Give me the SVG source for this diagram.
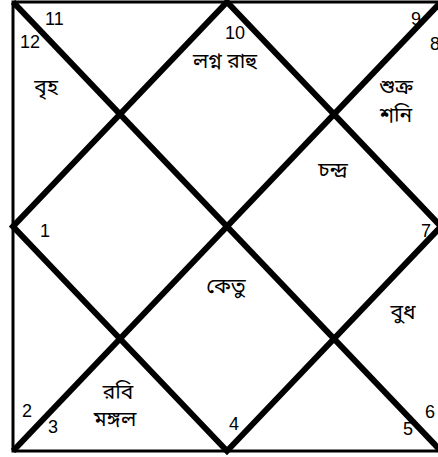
<svg xmlns="http://www.w3.org/2000/svg" width="438" height="457" viewBox="0 0 438 457">
<style>
.num{font-family:"Liberation Sans",Arial,sans-serif;font-size:18px;fill:#000}
.pl{font-family:"Noto Sans Bengali","Noto Sans","Liberation Sans",sans-serif;font-size:21px;fill:#000}
.frame{fill:none;stroke:#000;stroke-width:3}
.thick{fill:none;stroke:#000;stroke-width:6;stroke-linejoin:miter}
</style>
<rect width="438" height="457" fill="#fff"/>
<g id="lines">
<rect class="frame" x="13" y="2" width="428" height="449"/>
<line class="thick" x1="13" y1="2" x2="441" y2="451"/>
<line class="thick" x1="441" y1="2" x2="13" y2="451"/>
<polygon class="thick" points="227,2 441,226.5 227,451 13,226.5"/>
</g>
<g id="house1"><text class="num" x="40" y="237">1</text></g>
<g id="house2"><text class="num" x="22" y="417">2</text></g>
<g id="house3"><text class="num" x="48" y="433">3</text><text class="pl" x="118" y="399" text-anchor="middle">রবি</text><text class="pl" x="115" y="426" text-anchor="middle">মঙ্গল</text></g>
<g id="house4"><text class="num" x="229" y="430">4</text><text class="pl" x="226" y="293" text-anchor="middle">কেতু</text></g>
<g id="house5"><text class="num" x="403" y="435">5</text><text class="pl" x="403" y="319" text-anchor="middle">বুধ</text></g>
<g id="house6"><text class="num" x="425" y="418">6</text></g>
<g id="house7"><text class="num" x="421" y="237">7</text><text class="pl" x="333" y="177" text-anchor="middle">চন্দ্র</text></g>
<g id="house8"><text class="num" x="430" y="50">8</text><text class="pl" x="396" y="94" text-anchor="middle">শুক্র</text><text class="pl" x="396" y="122" text-anchor="middle">শনি</text></g>
<g id="house9"><text class="num" x="411" y="25">9</text></g>
<g id="house10"><text class="num" x="225" y="39">10</text><text class="pl" x="225" y="68" text-anchor="middle">লগ্ন রাহু</text></g>
<g id="house11"><text class="num" x="45" y="25">11</text></g>
<g id="house12"><text class="num" x="20" y="48">12</text><text class="pl" x="46" y="94" text-anchor="middle">বৃহ</text></g>
</svg>
